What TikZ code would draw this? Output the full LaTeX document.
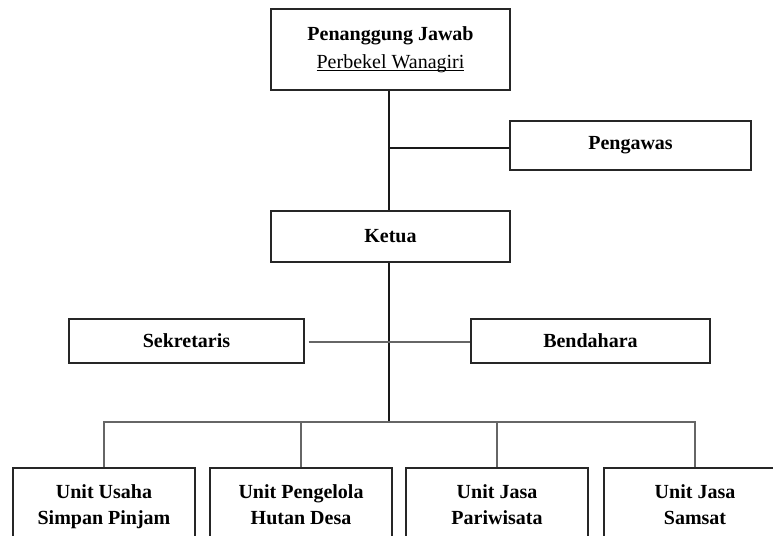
\documentclass[tikz,border=0pt]{standalone}
\usepackage{fontspec}
\setmainfont{Liberation Serif}
\newsavebox\ulbox
\newcommand\myuline[1]{\sbox\ulbox{#1}\rlap{\rule[-3pt]{\wd\ulbox}{0.8pt}}\usebox\ulbox}
\begin{document}
\begin{tikzpicture}[x=1pt,y=-1pt,
  orgbox/.style={draw=black!85, line width=1.3pt, rectangle, align=center, inner sep=0pt,
    font=\fontsize{20}{28}\selectfont\bfseries},
  mainline/.style={draw=black!90, line width=1.3pt},
  greyline/.style={draw=black!60, line width=1.6pt},
  unitbox/.style={orgbox, minimum width=182pt, minimum height=76pt, font=\fontsize{20}{26}\selectfont\bfseries}]
\useasboundingbox (0,0) rectangle (773,535);
\clip (0,0) rectangle (773,535);
\fill[white] (0,0) rectangle (773,535);
\node[orgbox, minimum width=239pt, minimum height=81pt] (pj) at (390.5,49.5)
  {\raisebox{2pt}{Penanggung Jawab}\\ \raisebox{2pt}{\mdseries\myuline{Perbekel Wanagiri}}};
\node[orgbox, minimum width=241pt, minimum height=49pt] (peng) at (630.5,145.5) {\raisebox{-2pt}{Pengawas}};
\node[orgbox, minimum width=239pt, minimum height=51pt] (ketua) at (390.5,236.5) {Ketua};
\node[orgbox, minimum width=235pt, minimum height=44pt] (sek) at (186.5,341) {Sekretaris};
\node[orgbox, minimum width=239pt, minimum height=44pt] (ben) at (590.5,341) {Bendahara};
\node[unitbox] (u1) at (104,506) {\strut Unit Usaha\\\strut Simpan Pinjam};
\node[unitbox] (u2) at (301,506) {\strut Unit Pengelola\\\strut Hutan Desa};
\node[unitbox] (u3) at (497,506) {\strut Unit Jasa\\\strut Pariwisata};
\node[unitbox] (u4) at (695,506) {\strut Unit Jasa\\\strut Samsat};
\coordinate (jp) at (389,148);
\coordinate (js) at (389,342);
\coordinate (bus) at (389,422);
\draw[mainline] (pj.south -| jp) -- (ketua.north -| jp);
\draw[mainline] (jp) -- (jp -| peng.west);
\draw[mainline] (ketua.south -| jp) -- (bus);
\draw[greyline] ([xshift=4pt]sek.east |- js) -- (js -| ben.west);
\draw[greyline] (u1.north) -- (u1.north |- bus) -- (u4.north |- bus) -- (u4.north);
\draw[greyline] (u2.north) -- (u2.north |- bus);
\draw[greyline] (u3.north) -- (u3.north |- bus);
\end{tikzpicture}
\end{document}
